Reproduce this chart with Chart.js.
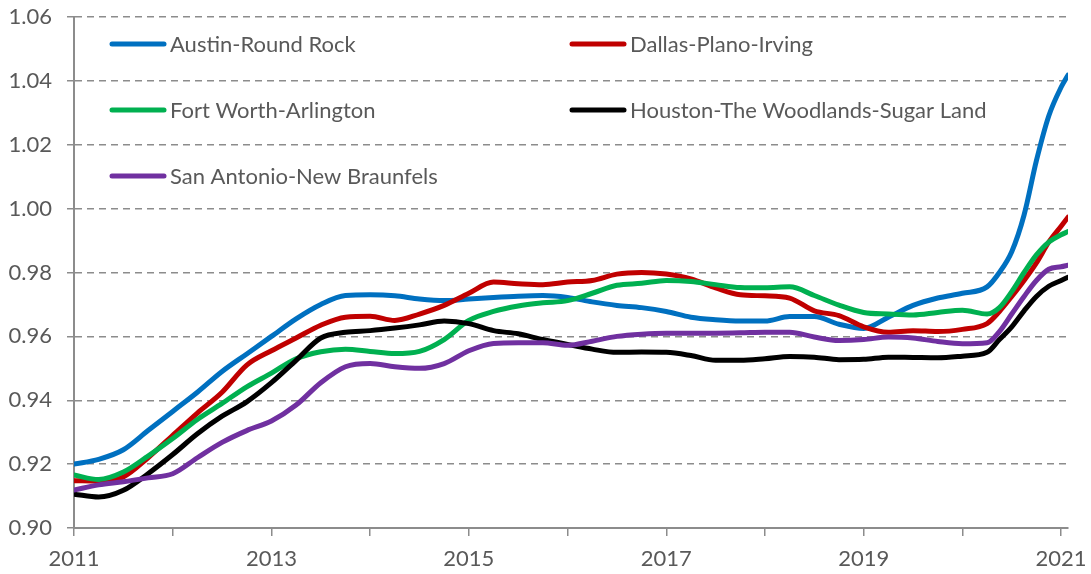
<!DOCTYPE html>
<html>
<head>
<meta charset="utf-8">
<script src="https://cdn.jsdelivr.net/npm/chart.js@4.4.1/dist/chart.umd.min.js"></script>
<style>
  html, body { margin: 0; padding: 0; background: #ffffff; }
  #wrap { position: relative; width: 1091px; height: 574px; }
  canvas { display: block; }
</style>
</head>
<body>
<div id="wrap"><canvas id="c" width="1091" height="574"></canvas></div>
<script>
// ---- data ----
const years = [2011, 2011.25, 2011.5, 2011.75, 2012, 2012.25, 2012.5, 2012.75,
  2013, 2013.25, 2013.5, 2013.75, 2014, 2014.25, 2014.5, 2014.75,
  2015, 2015.25, 2015.5, 2015.75, 2016, 2016.25, 2016.5, 2016.75,
  2017, 2017.25, 2017.5, 2017.75, 2018, 2018.25, 2018.5, 2018.75,
  2019, 2019.25, 2019.5, 2019.75, 2020, 2020.25, 2020.375, 2020.5,
  2020.625, 2020.75, 2020.875, 2021, 2021.07];

const seriesNames = ["Austin-Round Rock", "Dallas-Plano-Irving", "Fort Worth-Arlington",
  "Houston-The Woodlands-Sugar Land", "San Antonio-New Braunfels"];

const austin = [0.9200, 0.9215, 0.9245, 0.9305, 0.9365, 0.9425, 0.9490, 0.9545,
  0.9600, 0.9655, 0.9700, 0.9728, 0.9730, 0.9727, 0.9717, 0.9712,
  0.9717, 0.9722, 0.9726, 0.9728, 0.9722, 0.9708, 0.9697, 0.9690,
  0.9678, 0.9660, 0.9652, 0.9648, 0.9648, 0.9662, 0.9662, 0.9638,
  0.9625, 0.9660, 0.9697, 0.9720, 0.9735, 0.9755, 0.9800, 0.9865,
  0.9980, 1.0150, 1.0290, 1.0380, 1.0418];

const dallas = [0.9148, 0.9147, 0.9160, 0.9220, 0.9290, 0.9360, 0.9425, 0.9510,
  0.9555, 0.9595, 0.9635, 0.9660, 0.9663, 0.9650, 0.9670, 0.9697,
  0.9735, 0.9770, 0.9765, 0.9762, 0.9770, 0.9775, 0.9795, 0.9800,
  0.9795, 0.9780, 0.9752, 0.9730, 0.9727, 0.9720, 0.9680, 0.9665,
  0.9630, 0.9613, 0.9618, 0.9615, 0.9622, 0.9640, 0.9678, 0.9725,
  0.9775, 0.9830, 0.9895, 0.9945, 0.9973];

const fortWorth = [0.9166, 0.9152, 0.9175, 0.9225, 0.9280, 0.9340, 0.9390, 0.9442,
  0.9485, 0.9530, 0.9552, 0.9560, 0.9553, 0.9546, 0.9553, 0.9590,
  0.9650, 0.9678, 0.9695, 0.9705, 0.9712, 0.9735, 0.9760, 0.9766,
  0.9775, 0.9772, 0.9762, 0.9753, 0.9752, 0.9755, 0.9728, 0.9698,
  0.9675, 0.9670, 0.9667, 0.9675, 0.9682, 0.9670, 0.9690, 0.9740,
  0.9800, 0.9855, 0.9895, 0.9918, 0.9928];

const houston = [0.9106, 0.9097, 0.9118, 0.9170, 0.9230, 0.9295, 0.9350, 0.9395,
  0.9455, 0.9525, 0.9595, 0.9613, 0.9618, 0.9626, 0.9636, 0.9648,
  0.9640, 0.9618, 0.9608, 0.9590, 0.9575, 0.9560, 0.9550, 0.9551,
  0.9550, 0.9540, 0.9525, 0.9525, 0.9530, 0.9537, 0.9535, 0.9527,
  0.9528, 0.9535, 0.9534, 0.9533, 0.9538, 0.9550, 0.9590, 0.9630,
  0.9680, 0.9725, 0.9757, 0.9775, 0.9785];

const sanAntonio = [0.9119, 0.9135, 0.9145, 0.9157, 0.9170, 0.9220, 0.9268, 0.9305,
  0.9335, 0.9385, 0.9455, 0.9505, 0.9515, 0.9505, 0.9500, 0.9515,
  0.9555, 0.9578, 0.9580, 0.9580, 0.9572, 0.9585, 0.9600, 0.9607,
  0.9610, 0.9610, 0.9610, 0.9611, 0.9613, 0.9613, 0.9598, 0.9587,
  0.9590, 0.9598, 0.9595, 0.9584, 0.9577, 0.9580, 0.9615, 0.9670,
  0.9725, 0.9775, 0.9810, 0.9818, 0.9823];

const xTicks = [2011, 2012, 2013, 2014, 2015, 2016, 2017, 2018, 2019, 2020, 2021];
const xTickLabels = ["2011", "", "2013", "", "2015", "", "2017", "", "2019", "", "2021"];
const yTicks = [0.90, 0.92, 0.94, 0.96, 0.98, 1.00, 1.02, 1.04, 1.06];

// ---- styles ----
const colors = ["#0070C0", "#C00000", "#00B050", "#000000", "#7030A0"];
const allValues = [austin, dallas, fortWorth, houston, sanAntonio];
const FONT = "Lato";
const TEXT = "#595959";
const GRID = "#8c8c8c";

const datasets = allValues.map((vals, i) => ({
  label: seriesNames[i],
  data: years.map((x, k) => ({ x: x, y: vals[k] })),
  borderColor: colors[i],
  backgroundColor: colors[i],
  borderWidth: 5,
  pointRadius: 0,
  cubicInterpolationMode: "monotone",
  borderCapStyle: "round",
  borderJoinStyle: "round",
  fill: false,
  order: allValues.length - 1 - i
}));

// Legend drawn inside the plot area, two columns
const legendPos = [
  { x: 110, y: 44 }, { x: 570, y: 44 },
  { x: 110, y: 110 }, { x: 570, y: 110 },
  { x: 110, y: 176 }
];
const insideLegend = {
  id: "insideLegend",
  afterDraw(chart) {
    const ctx = chart.ctx;
    ctx.save();
    ctx.font = "22px " + FONT;
    ctx.textBaseline = "middle";
    ctx.textAlign = "left";
    chart.data.datasets.forEach((ds, i) => {
      const p = legendPos[i];
      ctx.strokeStyle = ds.borderColor;
      ctx.lineWidth = 5;
      ctx.lineCap = "round";
      ctx.beginPath();
      ctx.moveTo(p.x + 2, p.y);
      ctx.lineTo(p.x + 54, p.y);
      ctx.stroke();
      ctx.fillStyle = TEXT;
      ctx.fillText(ds.label, p.x + 60, p.y + 1);
    });
    ctx.restore();
  }
};

new Chart(document.getElementById("c"), {
  type: "line",
  data: { datasets: datasets },
  plugins: [insideLegend],
  options: {
    responsive: false,
    animation: false,
    layout: { padding: { left: 0, right: 23, top: 17, bottom: 0 } },
    plugins: { legend: { display: false }, tooltip: { enabled: false }, title: { display: false } },
    scales: {
      x: {
        type: "linear",
        min: 2011,
        max: 2021.07,
        afterBuildTicks: (s) => { s.ticks = xTicks.map(v => ({ value: v })); },
        afterFit: (s) => { s.height = 46; s.paddingLeft = 0; s.paddingRight = 0; },
        grid: { drawOnChartArea: false, drawTicks: true, tickLength: 8, color: GRID, lineWidth: 1.5 },
        border: { display: true, color: GRID, width: 2 },
        ticks: {
          autoSkip: false, maxRotation: 0, padding: 10, color: TEXT,
          font: { family: FONT, size: 22 },
          callback: (v) => { const i = xTicks.indexOf(v); return i >= 0 ? xTickLabels[i] : ""; }
        }
      },
      y: {
        type: "linear",
        min: 0.90,
        max: 1.06,
        afterBuildTicks: (s) => { s.ticks = yTicks.map(v => ({ value: v })); },
        afterFit: (s) => { s.width = 74; s.paddingTop = 0; s.paddingBottom = 0; },
        grid: { color: GRID, lineWidth: 1.5, tickLength: 7, tickBorderDash: [] },
        border: { display: true, color: GRID, width: 2, dash: [7, 5] },
        ticks: {
          padding: 15, color: TEXT,
          font: { family: FONT, size: 22 },
          callback: (v) => Number(v).toFixed(2)
        }
      }
    }
  }
});
</script>
</body>
</html>
